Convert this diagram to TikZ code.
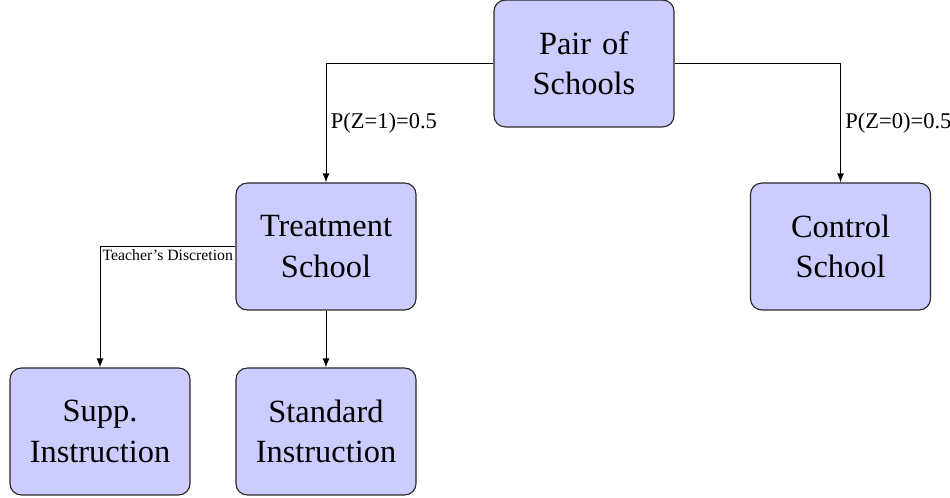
\documentclass[tikz,border=0pt]{standalone}
\usepackage{fontspec}
\setmainfont{Liberation Serif}
\usepackage{tikz}
\usetikzlibrary{positioning}
\definecolor{box_fill}		{RGB}{204,204,255}
\definecolor{box_line}		{RGB}{40,40,40}
\begin{document}
\begin{tikzpicture}[auto,
		x               = 0.4444pt,
		y               = -0.4444pt,
		blockS/.style   = {draw = box_line,
			rectangle,
			rounded corners = 5pt,
			text centered,
			fill           = box_fill,
			text width     = 72pt,
			font = \Large,
			line width         = 0.5pt,
			minimum width  = 80pt,
			minimum height = 56.4pt},
		labelS/.style   = {font = \normalsize, inner sep = 2pt}]
		
		\useasboundingbox (0,0) rectangle (950,498);
		
		\node[blockS] (Pair) at (584,63.5)
		{ Pair of \\ Schools };
		
		\node[blockS] (Treat) at (326,246.5)
		{ Treatment \\ School };
		
		\node[blockS] (Control) at (840.5,246.5)
		{ Control \\ School };
		
		\node[blockS] (Supp) at (100,431.5)
		{ Supp. \\ Instruction };
		
		\node[blockS] (Std) at (326,431.5)
		{ Standard \\ Instruction };
		
		\draw[-latex] (Pair.west) -| node[labelS, pos=0.75, anchor=west] {P(Z=1)=0.5} (Treat.north);
		\draw[-latex] (Pair.east) -| node[labelS, pos=0.75, anchor=west] {P(Z=0)=0.5} (Control.north);
		
		\draw[-latex] (Treat.west) -| node[labelS, font=\scriptsize, pos=0.5, anchor=north west, inner sep=1pt] {Teacher's Discretion} (Supp.north);
		\draw[-latex] (Treat.south) -- (Std.north);
		
	\end{tikzpicture}
\end{document}
